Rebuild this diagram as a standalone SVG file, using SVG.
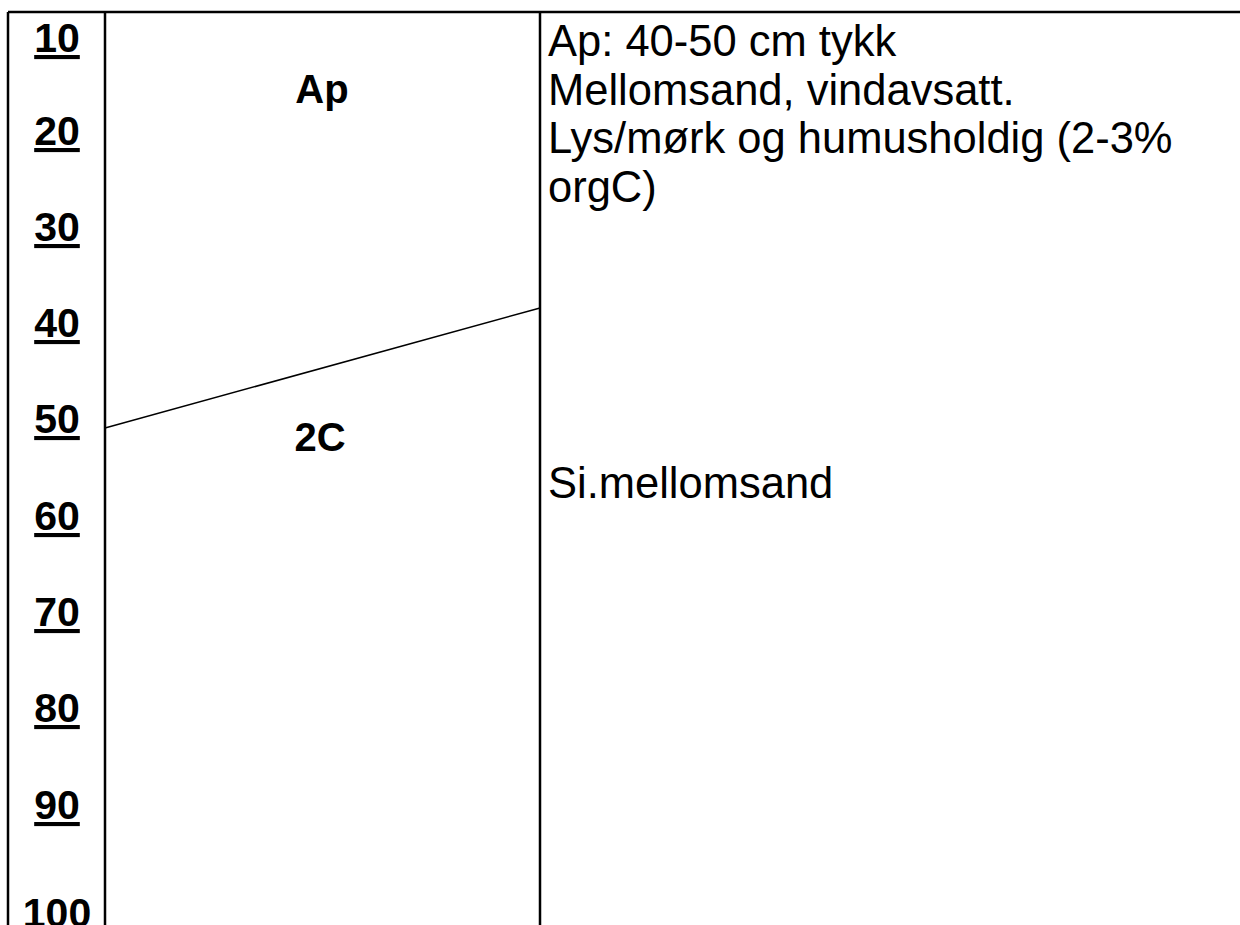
<svg xmlns="http://www.w3.org/2000/svg" width="1240" height="925" viewBox="0 0 1240 925">
<style>
.frame{stroke:#000;stroke-width:2.5;fill:none}
.bound{stroke:#000;stroke-width:1.5;fill:none}
.depth{font-family:"Liberation Sans",Arial,sans-serif;font-weight:bold;font-size:41px;fill:#000;text-anchor:middle}
.hz{font-family:"Liberation Sans",Arial,sans-serif;font-weight:bold;font-size:40px;fill:#000;text-anchor:middle}
.desc{font-family:"Liberation Sans",Arial,sans-serif;font-size:43.5px;fill:#000}
</style>
<rect width="1240" height="925" fill="#fff"/>
<g id="frame">
<line class="frame" x1="8" y1="12" x2="1240" y2="12"/>
<line class="frame" x1="8" y1="12" x2="8" y2="925"/>
<line class="frame" x1="105" y1="12" x2="105" y2="925"/>
<line class="frame" x1="540" y1="12" x2="540" y2="925"/>
</g>
<g id="connectors">
<line class="bound" x1="105" y1="428" x2="540" y2="308"/>
</g>
<g id="depth-scale">
<text class="depth" x="57" y="52" text-decoration="underline">10</text>
<text class="depth" x="57" y="145" text-decoration="underline">20</text>
<text class="depth" x="57" y="241" text-decoration="underline">30</text>
<text class="depth" x="57" y="337" text-decoration="underline">40</text>
<text class="depth" x="57" y="433" text-decoration="underline">50</text>
<text class="depth" x="57" y="530" text-decoration="underline">60</text>
<text class="depth" x="57" y="626" text-decoration="underline">70</text>
<text class="depth" x="57" y="722" text-decoration="underline">80</text>
<text class="depth" x="57" y="819" text-decoration="underline">90</text>
<text class="depth" x="57" y="927">100</text>
</g>
<g id="horizon-Ap">
<text class="hz" x="322" y="103">Ap</text>
</g>
<g id="horizon-2C">
<text class="hz" x="320" y="451">2C</text>
</g>
<g id="desc-Ap">
<text class="desc" x="548" y="56">Ap: 40-50 cm tykk</text>
<text class="desc" x="548" y="104.5">Mellomsand, vindavsatt.</text>
<text class="desc" x="548" y="153">Lys/mørk og humusholdig (2-3%</text>
<text class="desc" x="548" y="201.5">orgC)</text>
</g>
<g id="desc-2C">
<text class="desc" x="548" y="498">Si.mellomsand</text>
</g>
</svg>
